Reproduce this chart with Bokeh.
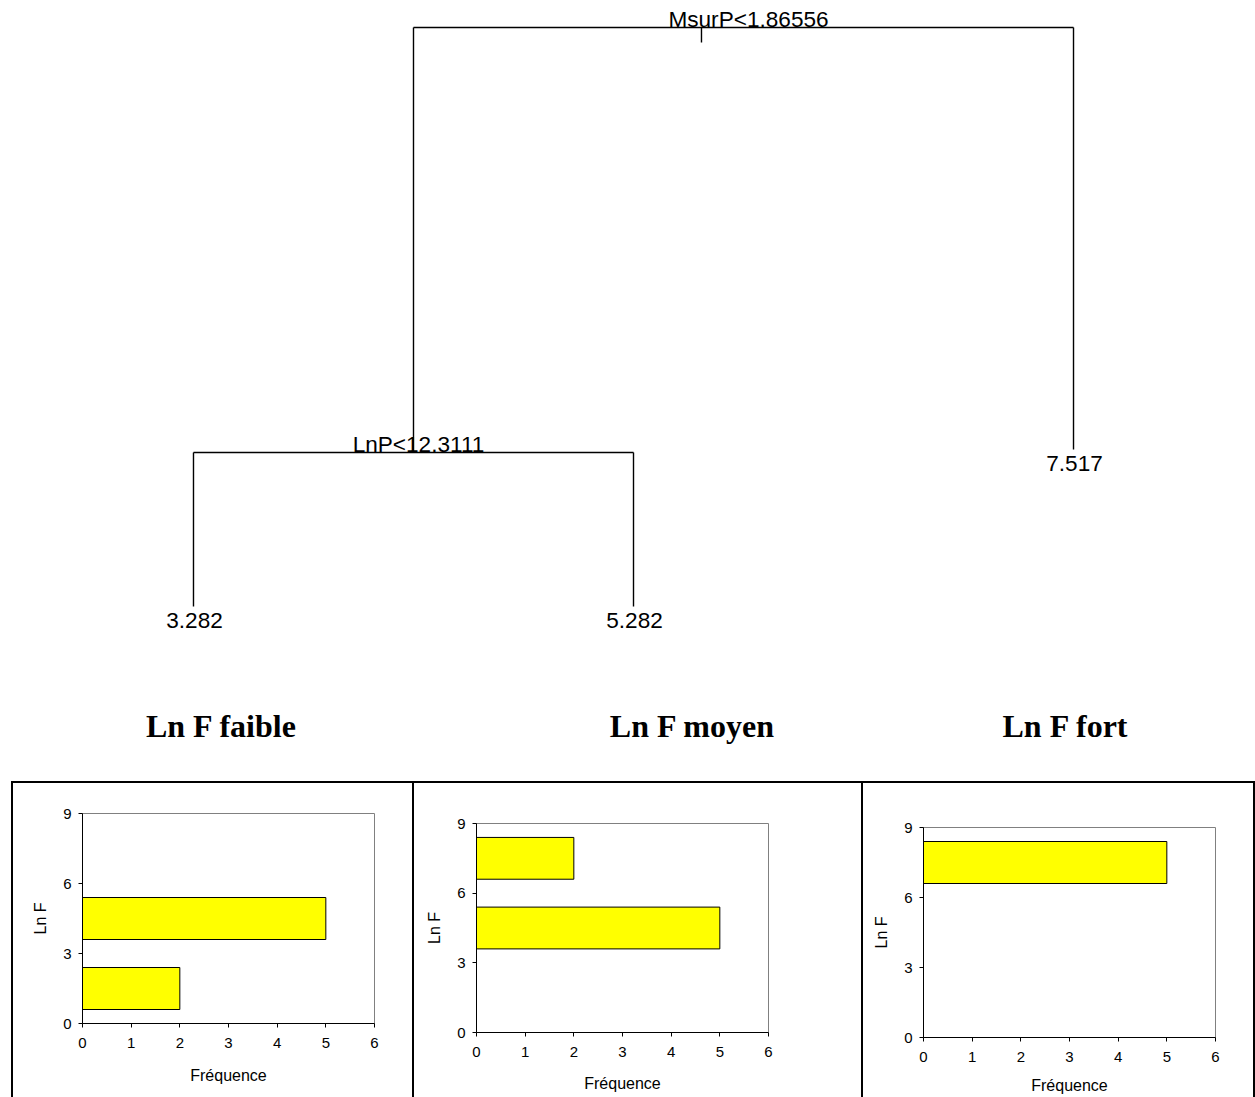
from bokeh.plotting import figure
from bokeh.layouts import column, row
from bokeh.models import ColumnDataSource, Range1d, FixedTicker
from bokeh.core.properties import value
from bokeh.embed import file_html
from bokeh.resources import INLINE

# ---------------- data ----------------
split_labels = ["MsurP<1.86556", "LnP<12.3111"]
split_heights = [1.0, 0.266]          # relative node height (deviance scale)
leaf_labels = ["3.282", "5.282", "7.517"]
leaf_heights = [0.0, 0.0, 0.271]
# children of each split: ("s", i) = split i, ("l", i) = leaf i
split_children = [[("s", 1), ("l", 2)], [("l", 0), ("l", 1)]]

group_titles = ["Ln F faible", "Ln F moyen", "Ln F fort"]

bin_centers = [1.5, 4.5, 7.5]
bin_thickness = 1.8
counts_faible = [2, 5, 0]
counts_moyen = [0, 5, 2]
counts_fort = [0, 0, 5]
x_ticks = [0, 1, 2, 3, 4, 5, 6]
y_ticks = [0, 3, 6, 9]

SANS_NAME = "Liberation Sans"
SANS = value(SANS_NAME)
SERIF = value("Liberation Serif")

# ---------------- tree layout ----------------
leaf_x = [float(i) for i in range(len(leaf_labels))]
split_x = [None] * len(split_labels)


def node_x(kind, i):
    if kind == "l":
        return leaf_x[i]
    if split_x[i] is None:
        xs = [node_x(k, j) for k, j in split_children[i]]
        split_x[i] = sum(xs) / len(xs)
    return split_x[i]


def node_h(kind, i):
    return leaf_heights[i] if kind == "l" else split_heights[i]


for i in range(len(split_labels)):
    node_x("s", i)

sx0, sy0, sx1, sy1 = [], [], [], []
for i, ch in enumerate(split_children):
    xs = [node_x(k, j) for k, j in ch]
    h = split_heights[i]
    sx0.append(min(xs)); sx1.append(max(xs)); sy0.append(h); sy1.append(h)
    for k, j in ch:
        cx = node_x(k, j)
        sx0.append(cx); sx1.append(cx); sy0.append(h); sy1.append(node_h(k, j))
# small stub under the root split
root_tick_x = split_x[0] - 0.0955
sx0.append(root_tick_x); sx1.append(root_tick_x)
sy0.append(split_heights[0]); sy1.append(split_heights[0] - 0.026)

tree = figure(width=1255, height=781,
              x_range=Range1d(-0.4386, 2.4136), y_range=Range1d(-0.3022, 1.0466),
              output_backend="svg", toolbar_location=None,
              x_axis_location=None, y_axis_location=None, min_border=0)
tree.outline_line_color = None
tree.background_fill_color = "white"
tree.border_fill_color = "white"
for g in tree.grid:
    g.visible = False

tree.segment(x0=sx0, y0=sy0, x1=sx1, y1=sy1, line_color="black", line_width=1.4)

split_src = ColumnDataSource(dict(x=split_x, y=split_heights, t=split_labels))
tree.text(x="x", y="y", text="t", source=split_src, text_font=SANS,
          text_font_size="22.6px", text_align="center", text_baseline="alphabetic",
          x_offset=5, y_offset=-8, text_color="black")

leaf_src = ColumnDataSource(dict(x=leaf_x, y=leaf_heights, t=leaf_labels))
tree.text(x="x", y="y", text="t", source=leaf_src, text_font=SANS,
          text_font_size="22.6px", text_align="center", text_baseline="alphabetic",
          x_offset=1, y_offset=14, text_color="black")

title_x = [0.0636, 1.134, 1.982]
title_y = [-0.2228] * 3
title_src = ColumnDataSource(dict(x=title_x, y=title_y, t=group_titles))
tree.text(x="x", y="y", text="t", source=title_src, text_font=SERIF,
          text_font_size="32px", text_font_style="bold", text_align="center",
          text_baseline="alphabetic", y_offset=-10, text_color="black")


# ---------------- histograms ----------------
def hist(counts, width, borders, label_standoff, shadow, margin=(0, 0, 0, 0)):
    left, right, top, bottom = borders
    p = figure(width=width, height=316, x_range=Range1d(0, 6), y_range=Range1d(0, 9),
               output_backend="svg", toolbar_location=None,
               min_border_left=left, min_border_right=right,
               min_border_top=top, min_border_bottom=bottom, margin=margin)
    p.frame_align = False
    p.border_fill_color = None
    p.background_fill_color = "white"
    p.outline_line_color = "#808080"
    p.outline_line_width = 1
    for g in p.grid:
        g.visible = False
    ys = [c for c, n in zip(bin_centers, counts) if n > 0]
    ns = [n for n in counts if n > 0]
    p.hbar(y=ys, left=0, right=ns, height=bin_thickness,
           fill_color="#FFFF00", line_color="black", line_width=1)
    p.xaxis.ticker = FixedTicker(ticks=x_ticks)
    p.yaxis.ticker = FixedTicker(ticks=y_ticks)
    p.xaxis.axis_label = "Fréquence"
    p.yaxis.axis_label = "Ln F"
    for ax in (p.xaxis, p.yaxis):
        ax.axis_line_color = "black"
        ax.axis_line_width = 1
        ax.major_tick_out = 4
        ax.major_tick_in = 0
        ax.minor_tick_line_color = None
        ax.major_tick_line_color = "black"
        ax.major_label_text_font = SANS_NAME
        ax.major_label_text_font_size = "15px"
        ax.major_label_text_color = "black"
        ax.axis_label_text_font = SANS_NAME
        ax.axis_label_text_font_size = "16px"
        ax.axis_label_text_font_style = "normal"
        ax.axis_label_text_color = "black"
    p.xaxis.major_label_standoff = 10
    p.yaxis.major_label_standoff = 7
    p.xaxis.axis_label_standoff = label_standoff
    p.yaxis.axis_label_standoff = 11
    p.styles = {"box-shadow": shadow}
    return p


h1 = hist(counts_faible, 403, (71, 40, 32, 74), 16,
          "inset 2px 2px 0 0 #000, inset -2px 0 0 0 #000", margin=(0, 0, 0, 11))
h2 = hist(counts_moyen, 449, (62, 95, 42, 65), 15,
          "inset 0 2px 0 0 #000, inset -2px 0 0 0 #000")
h3 = hist(counts_fort, 392, (60, 40, 46, 60), 12,
          "inset 0 2px 0 0 #000, inset -2px 0 0 0 #000")

layout = column(tree, row(h1, h2, h3))

open("out.html", "w").write(file_html(layout, INLINE))
